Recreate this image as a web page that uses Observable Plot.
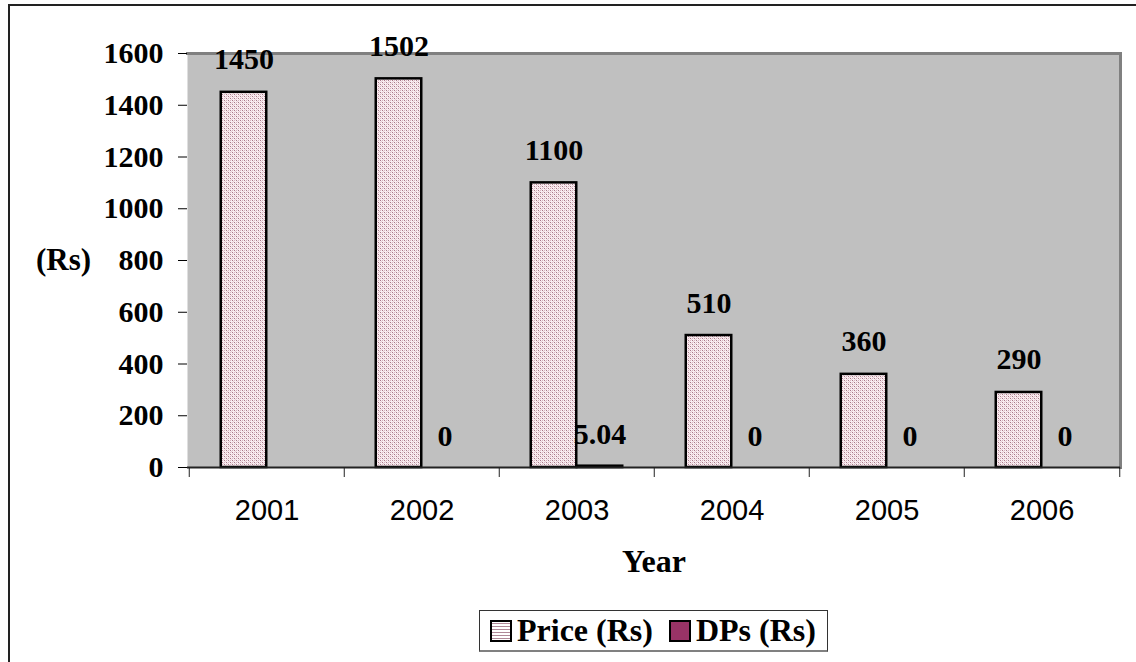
<!DOCTYPE html>
<html>
<head>
<meta charset="utf-8">
<script src="https://cdn.jsdelivr.net/npm/d3@7"></script>
<script src="https://cdn.jsdelivr.net/npm/@observablehq/plot@0.6"></script>
<style>
  html, body { margin: 0; padding: 0; background: #fff; }
  #wrap { position: relative; width: 1136px; height: 662px; overflow: hidden; }
  #outer { position: absolute; left: 8px; top: 4px; width: 1200px; height: 700px; border: 2px solid #222; box-sizing: border-box; }
  #chart { position: absolute; left: 0; top: 0; }
  #legend { position: absolute; left: 479px; top: 610px; width: 349px; height: 42px; box-sizing: border-box;
    border: 1px solid #333; border-bottom: 2px solid #808080; background: #fff; white-space: nowrap;
    display: flex; align-items: center; font-family: "Liberation Serif", serif; font-weight: bold; font-size: 32px; color: #000; }
  .sw { width: 22px; height: 22px; border: 2px solid #000; box-sizing: border-box; margin-right: 5px; flex: none; }
</style>
</head>
<body>
<div id="wrap">
  <div id="outer"></div>
  <div id="chart"></div>
  <div id="legend"></div>
</div>
<script>
const years = ["2001", "2002", "2003", "2004", "2005", "2006"];
const priceValues = [1450, 1502, 1100, 510, 360, 290];
const dpsValues = [null, 0, 5.04, 0, 0, 0];
const yTicks = [0, 200, 400, 600, 800, 1000, 1200, 1400, 1600];
const seriesNames = ["Price (Rs)", "DPs (Rs)"];

const priceData = years.map((y, i) => ({year: y, value: priceValues[i]}));
const dpsData = years.map((y, i) => ({year: y, value: dpsValues[i]})).filter(d => d.value !== null);

const W = 1136, H = 600;
const mL = 187, mR = 16, mT = 53, mB = 133;
const step = (W - mL - mR) / years.length;
const barW = 46, gap = (step - 2 * barW) / 2;
const serif = "'Liberation Serif', 'Times New Roman', serif";
const sans = "'Liberation Sans', Arial, sans-serif";

const chart = Plot.plot({
  width: W, height: H,
  marginLeft: mL, marginRight: mR, marginTop: mT, marginBottom: mB,
  style: {background: "transparent", color: "#000"},
  x: {domain: years, padding: 0, label: null},
  y: {domain: [0, 1600], label: null},
  marks: [
    Plot.frame({fill: "#c0c0c0", stroke: null}),
    Plot.frame({anchor: "top", stroke: "#808080", strokeWidth: 3}),
    Plot.frame({anchor: "right", stroke: "#808080", strokeWidth: 3}),
    Plot.barY(priceData, {x: "year", y: "value", fill: "url(#pricePat)", stroke: "#000", strokeWidth: 2.5,
      insetLeft: gap, insetRight: step - gap - barW}),
    Plot.barY(dpsData, {x: "year", y: "value", fill: "#993366", stroke: "#000", strokeWidth: 2.5,
      insetLeft: gap + barW, insetRight: gap}),
    Plot.ruleY([0], {stroke: "#222", strokeWidth: 2}),
    Plot.axisY({ticks: yTicks, tickSize: 9, tickPadding: 15, tickFormat: d => String(d),
      fontSize: 30, fontFamily: serif, fontWeight: "bold", stroke: "#000", label: null}),
    Plot.axisX({tickSize: 10, text: null, dx: -step / 2, stroke: "#222", label: null}),
    Plot.axisX({ticks: [years[years.length - 1]], tickSize: 10, text: null, dx: step / 2, stroke: "#222", label: null}),
    Plot.axisX({tickSize: 0, tickPadding: 32, fontSize: 29, fontFamily: sans, label: null}),
    Plot.text(priceData, {x: "year", y: "value", text: d => String(d.value), dx: gap + barW / 2 - step / 2,
      lineAnchor: "bottom", dy: -23, fontSize: 30, fontFamily: serif, fontWeight: "bold", fill: "#000"}),
    Plot.text(dpsData, {x: "year", y: "value", text: d => String(d.value), dx: step / 2 - gap - barW / 2,
      lineAnchor: "bottom", dy: -22, fontSize: 30, fontFamily: serif, fontWeight: "bold", fill: "#000"}),
    Plot.text(["Year"], {frameAnchor: "bottom", dy: 104, fontSize: 32, fontFamily: serif, fontWeight: "bold", fill: "#000"}),
    Plot.text(["(Rs)"], {frameAnchor: "left", dx: -124, textAnchor: "middle", fontSize: 31, fontFamily: serif, fontWeight: "bold", fill: "#000"})
  ]
});

// pattern definition for the Price bars
const ns = "http://www.w3.org/2000/svg";
const defs = document.createElementNS(ns, "defs");
defs.innerHTML = `
  <pattern id="pricePat" width="4" height="4" patternUnits="userSpaceOnUse">
    <rect width="4" height="4" fill="#f9eef1"/>
    <rect x="0" y="0" width="1" height="1" fill="#a87888"/>
    <rect x="2" y="2" width="1" height="1" fill="#a87888"/>
    <rect x="2" y="0" width="1" height="1" fill="#d8b4c0"/>
    <rect x="0" y="2" width="1" height="1" fill="#d8b4c0"/>
    <rect x="1" y="1" width="1" height="1" fill="#e8ccd4"/>
    <rect x="3" y="3" width="1" height="1" fill="#e8ccd4"/>
  </pattern>`;
chart.insertBefore(defs, chart.firstChild);
document.getElementById("chart").appendChild(chart);

// legend
const legend = document.getElementById("legend");
const swFills = ["url(#lp0)", "#993366"];
seriesNames.forEach((name, i) => {
  const sw = document.createElementNS(ns, "svg");
  sw.setAttribute("width", "22"); sw.setAttribute("height", "22");
  sw.setAttribute("class", "sw");
  sw.innerHTML = `<defs><pattern id="lp${i}" width="4" height="3" patternUnits="userSpaceOnUse"><rect width="4" height="3" fill="#fff"/><rect y="1" width="4" height="1" fill="#b08898"/></pattern></defs><rect width="22" height="22" fill="${swFills[i]}"/>`;
  sw.style.marginLeft = i === 0 ? "10px" : "16px";
  legend.appendChild(sw);
  const t = document.createElement("span");
  t.textContent = name;
  legend.appendChild(t);
});
</script>
</body>
</html>
